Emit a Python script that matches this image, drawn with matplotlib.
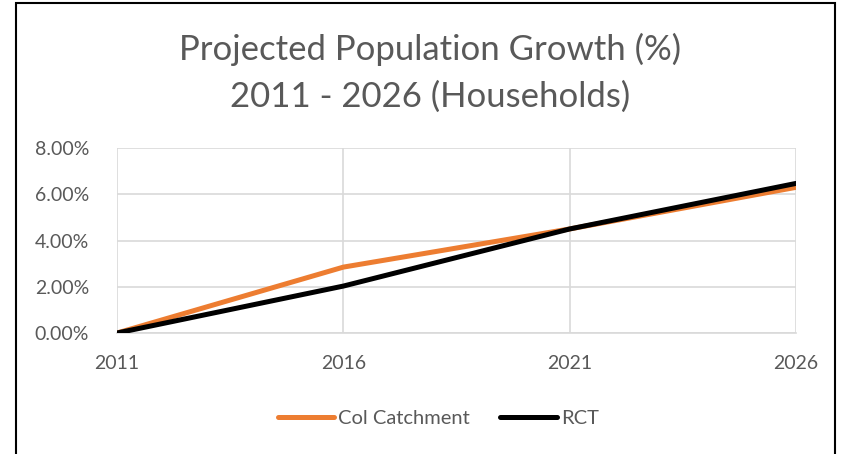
import matplotlib.pyplot as plt
from matplotlib.patches import Rectangle
from matplotlib.ticker import PercentFormatter

years = ["2011", "2016", "2021", "2026"]
col_catchment = [0.0, 2.85, 4.5, 6.3]
rct = [0.0, 2.03, 4.5, 6.47]

plt.rcParams["font.family"] = ["Lato", "DejaVu Sans"]
grey = "#595959"

fig = plt.figure(figsize=(8.43, 4.54), dpi=100)
ax = fig.add_axes([0.1388, 0.2665, 0.8056, 0.4075])

x = list(range(len(years)))
ax.plot(x, col_catchment, color="#ED7D31", lw=3.6, solid_capstyle="round", label="Col Catchment", zorder=3)
ax.plot(x, rct, color="black", lw=3.6, solid_capstyle="round", label="RCT", zorder=4)

ax.set_xlim(0, 3)
ax.set_ylim(0, 8)
ax.set_yticks([0, 2, 4, 6, 8])
ax.yaxis.set_major_formatter(PercentFormatter(decimals=2))
ax.set_xticks(x)
ax.set_xticklabels(years)
ax.grid(True, color="#d9d9d9", lw=1.2, zorder=0)
ax.tick_params(length=0, labelsize=14, colors=grey)
ax.tick_params(axis="y", pad=20)
ax.tick_params(axis="x", pad=16)
for side in ["top", "right", "left"]:
    ax.spines[side].set_visible(False)
ax.spines["bottom"].set_color("#d9d9d9")
ax.spines["bottom"].set_linewidth(1.2)

fig.text(0.51, 0.892, "Projected Population Growth (%)", ha="center", va="center", fontsize=25, color=grey)
fig.text(0.51, 0.788, "2011 - 2026 (Households)", ha="center", va="center", fontsize=25, color=grey)

fig.legend(loc="center", bbox_to_anchor=(0.52, 0.078), ncol=2, frameon=False,
           fontsize=14.5, labelcolor=grey, handlelength=2.8, handletextpad=0.2, columnspacing=1.5)

fig.patches.append(Rectangle((16 / 843, -0.05), (835 - 16) / 843, 1.05 - 3 / 454,
                             transform=fig.transFigure, fill=False, ec="black", lw=1.5))

fig.savefig("out.png", dpi=100)
